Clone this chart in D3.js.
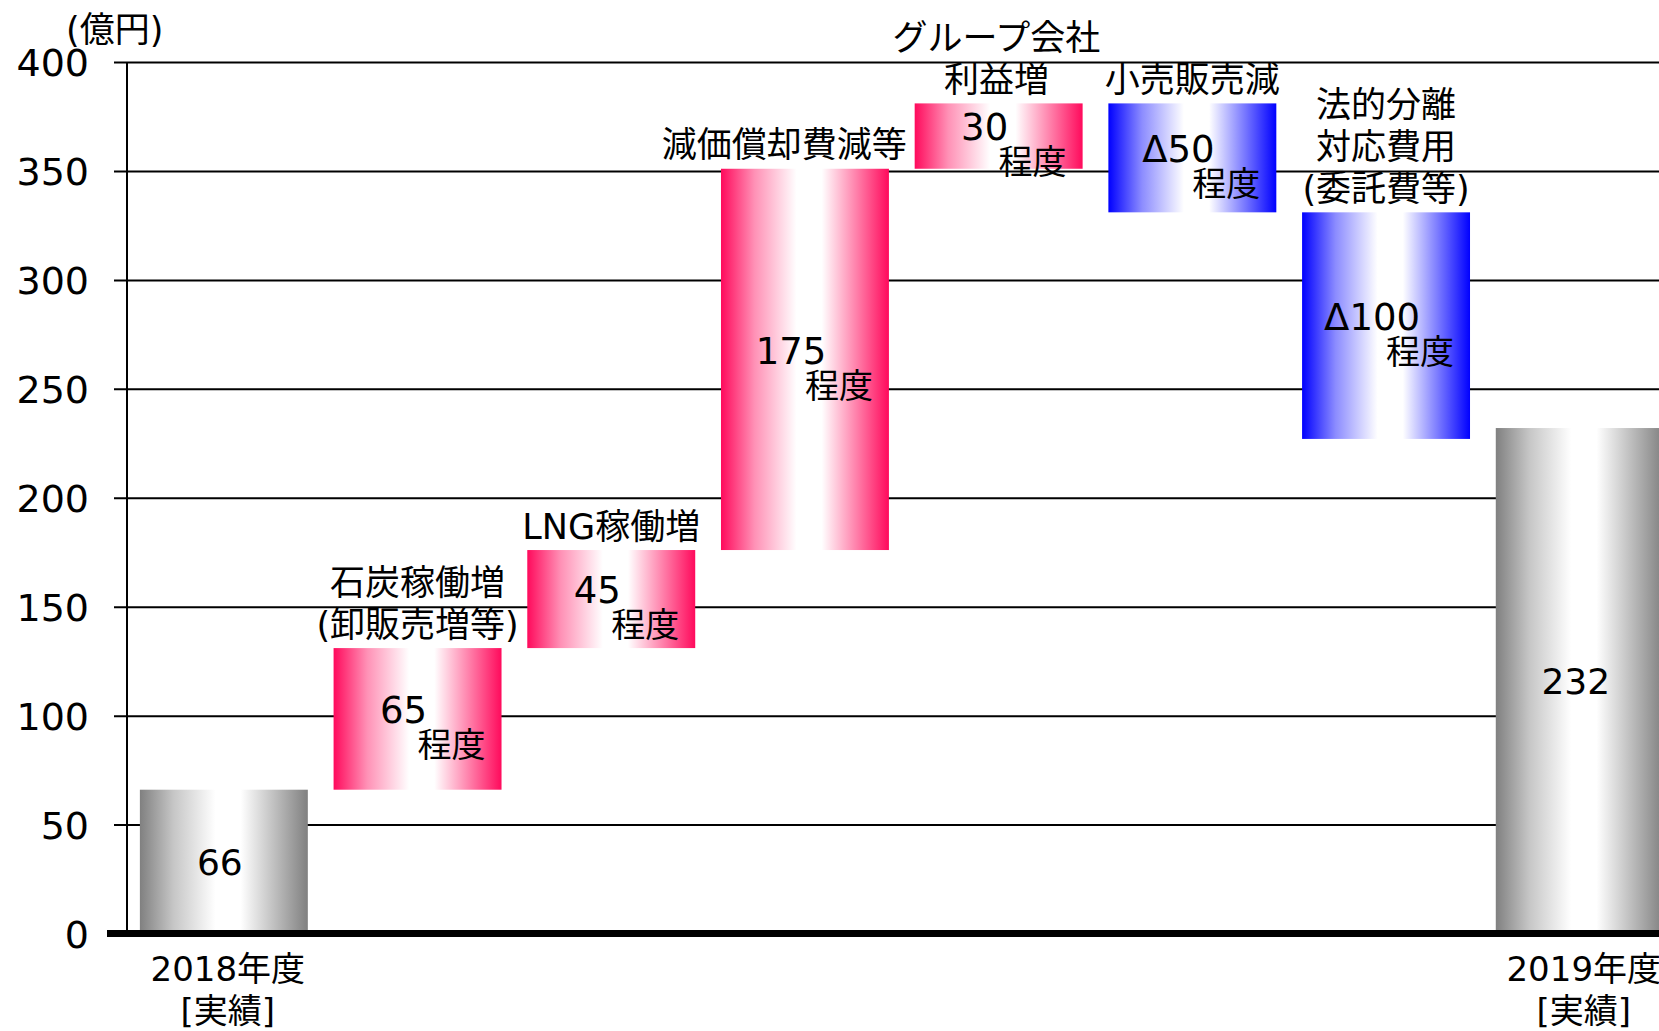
<!DOCTYPE html>
<html>
<head>
<meta charset="utf-8">
<script src="https://cdn.jsdelivr.net/npm/d3@7.9.0/dist/d3.min.js"></script>
<style>
  html, body { margin: 0; padding: 0; background: #fff; }
  svg { display: block; font-family: "DejaVu Sans", "Noto Sans CJK JP", sans-serif; }
</style>
</head>
<body>
<svg id="chart"></svg>
<script>
// waterfall: 2018 -> 2019 (億円)
const categories = ['2018年度\n[実績]', '石炭稼働増\n(卸販売増等)', 'LNG稼働増', '減価償却費減等',
                    'グループ会社\n利益増', '小売販売減', '法的分離\n対応費用\n(委託費等)', '2019年度\n[実績]'];
const barLow  = [0, 66, 131, 176, 351, 331, 227, 0];
const barHigh = [66, 131, 176, 351, 381, 381, 331, 232];
const barKind = ['total', 'up', 'up', 'up', 'up', 'down', 'down', 'total'];
const valueLabels = ['66', '65', '45', '175', '30', 'Δ50', 'Δ100', '232'];
const yTicks = [0, 50, 100, 150, 200, 250, 300, 350, 400];

const W = 1659, H = 1031;
const svg = d3.select('#chart').attr('width', W).attr('height', H);

let y = d3.scaleLinear().domain([0, 400]).range([933.5, 62]);
let x = d3.scaleBand()
    .domain(d3.range(categories.length))
    .range([127, 127 + 8 * 193.7])
    .paddingInner(0.133)
    .paddingOuter(0.0665);

// gradients: edge colour -> white -> edge colour
const defs = svg.append('defs');
function makeGrad(id, edge) {
    let mix = d3.interpolateRgb(edge, '#fff');
    let g = defs.append('linearGradient').attr('id', id)
        .attr('x1', 0).attr('x2', 1).attr('y1', 0).attr('y2', 0);
    g.append('stop').attr('offset', '0%').attr('stop-color', edge);
    g.append('stop').attr('offset', '20%').attr('stop-color', mix(0.55));
    g.append('stop').attr('offset', '45%').attr('stop-color', '#fff');
    g.append('stop').attr('offset', '60%').attr('stop-color', '#fff');
    g.append('stop').attr('offset', '82%').attr('stop-color', mix(0.45));
    g.append('stop').attr('offset', '100%').attr('stop-color', edge);
}
makeGrad('g-total', '#808080');
makeGrad('g-up', '#ff0a5c');
makeGrad('g-down', '#0000ff');

// grid + y axis labels
let axis = d3.axisLeft(y)
    .tickValues(yTicks)
    .tickSizeInner(-(W - 127))
    .tickSizeOuter(0)
    .tickPadding(38);

let gAxis = svg.append('g').attr('transform', 'translate(127,0)').call(axis)
    .attr('font-family', null).attr('font-size', null);
gAxis.select('.domain').remove();
gAxis.selectAll('.tick line').attr('x1', -13).attr('stroke', '#000').attr('stroke-width', 2);
gAxis.selectAll('.tick text')
    .attr('fill', '#000')
    .style('font-size', '38px')
    .attr('dy', '0.36em');

svg.append('line')
    .attr('x1', 127).attr('x2', 127)
    .attr('y1', y(400)).attr('y2', y(0))
    .attr('stroke', '#000').attr('stroke-width', 2);

svg.append('text')
    .attr('x', 66).attr('y', 29).attr('dy', '0.36em')
    .style('font-size', '35px')
    .text('(億円)');

// bars
categories.forEach((c, i) => {
    svg.append('rect')
        .attr('x', x(i))
        .attr('y', y(barHigh[i]))
        .attr('width', x.bandwidth())
        .attr('height', y(barLow[i]) - y(barHigh[i]))
        .attr('fill', `url(#g-${barKind[i]})`);
});

// thick baseline
svg.append('line')
    .attr('x1', 107).attr('x2', W)
    .attr('y1', y(0)).attr('y2', y(0))
    .attr('stroke', '#000').attr('stroke-width', 7);

// value labels inside bars
categories.forEach((c, i) => {
    let left = x(i), right = x(i) + x.bandwidth();
    let top = y(barHigh[i]), bottom = y(barLow[i]);
    let mid = (top + bottom) / 2;

    if (barKind[i] === 'total') {
        svg.append('text')
            .attr('x', (left + right) / 2 - 4).attr('y', mid).attr('dy', '0.36em')
            .attr('text-anchor', 'middle')
            .style('font-size', '36px')
            .text(valueLabels[i]);
    } else {
        let ny = mid - 9;
        svg.append('text')
            .attr('x', (left + right) / 2 - 14).attr('y', ny).attr('dy', '0.36em')
            .attr('text-anchor', 'middle')
            .style('font-size', '37px')
            .text(valueLabels[i]);
        svg.append('text')
            .attr('x', right - 16).attr('y', Math.min(ny + 35, bottom + 14)).attr('dy', '0.36em')
            .attr('text-anchor', 'end')
            .style('font-size', '34px')
            .text('程度');
    }
});

// category labels
categories.forEach((c, i) => {
    let lines = c.split('\n');
    let cx = x(i) + x.bandwidth() / 2;

    if (barKind[i] === 'total') {
        lines.forEach((t, k) => {
            svg.append('text')
                .attr('x', cx + 4).attr('y', y(0) + 35 + k * 42).attr('dy', '0.36em')
                .attr('text-anchor', 'middle')
                .style('font-size', '34px')
                .text(t);
        });
    } else {
        let lastY = y(barHigh[i]) - 24;
        let g = svg.append('g');
        lines.forEach((t, k) => {
            g.append('text')
                .attr('x', cx).attr('y', lastY - (lines.length - 1 - k) * 42).attr('dy', '0.36em')
                .attr('text-anchor', 'middle')
                .style('font-size', '35px')
                .text(t);
        });
        // keep clear of the next bar
        if (i + 1 < categories.length) {
            let w = d3.max(g.selectAll('text').nodes(), n => n.getComputedTextLength());
            let over = cx + w / 2 - (x(i + 1) - 8);
            if (over > 0) g.attr('transform', `translate(${-over},0)`);
        }
    }
});
</script>
</body>
</html>
